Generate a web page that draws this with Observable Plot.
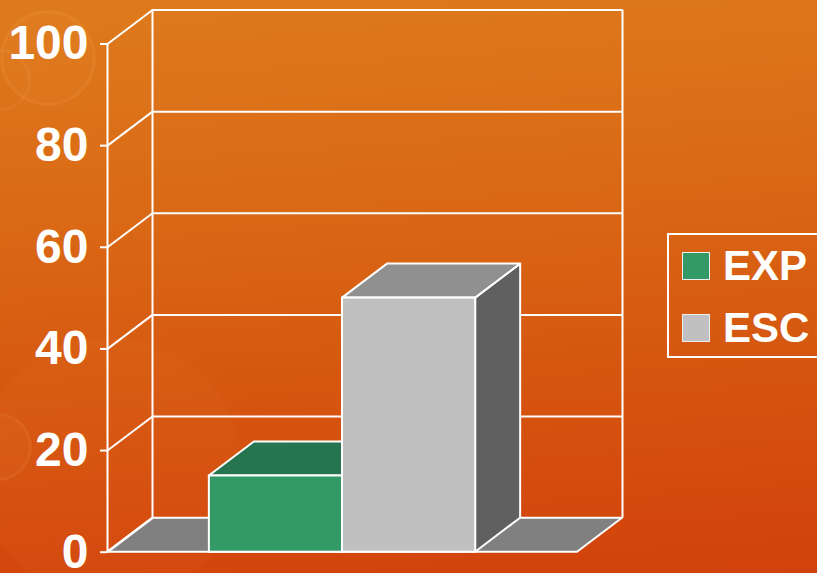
<!DOCTYPE html>
<html>
<head>
<meta charset="utf-8">
<script src="https://cdn.jsdelivr.net/npm/d3@7"></script>
<script src="https://cdn.jsdelivr.net/npm/@observablehq/plot@0.6"></script>
<style>
  html, body { margin: 0; padding: 0; }
  body {
    width: 817px; height: 573px; overflow: hidden; position: relative;
    font-family: "Liberation Sans", Arial, sans-serif;
    background:
      radial-gradient(circle at 48px 58px, rgba(255,190,110,0) 44px, rgba(255,190,110,0.13) 45.5px, rgba(255,190,110,0.13) 47px, rgba(255,190,110,0) 48.5px),
      radial-gradient(circle at 48px 58px, rgba(255,170,90,0.05) 0px, rgba(255,170,90,0.05) 44px, rgba(255,170,90,0) 45px),
      radial-gradient(circle at -2px 447px, rgba(255,190,110,0) 30px, rgba(255,190,110,0.12) 31.5px, rgba(255,190,110,0.12) 33px, rgba(255,190,110,0) 34.5px),
      radial-gradient(circle at -2px 447px, rgba(255,170,90,0.05) 0px, rgba(255,170,90,0.05) 30px, rgba(255,170,90,0) 31px),
      radial-gradient(circle at 0px 80px, rgba(255,190,110,0) 27px, rgba(255,190,110,0.09) 28.5px, rgba(255,190,110,0.09) 30px, rgba(255,190,110,0) 31.5px),
      radial-gradient(circle at 110px 470px, rgba(255,170,90,0.04) 0px, rgba(255,170,90,0.04) 130px, rgba(255,170,90,0) 135px),
      linear-gradient(176deg, #DE7B1D 0%, #DA6915 35%, #D5530F 70%, #D2410B 100%);
  }
  #chart { position: absolute; left: 0; top: 0; }
  #legend {
    position: absolute; left: 667px; top: 233px; width: 170px; height: 125px;
    border: 2px solid #fff; box-sizing: border-box;
  }
  .row { display: flex; align-items: center; height: 62px; }
  .sw { width: 28px; height: 28px; box-sizing: border-box; border: 1.5px solid #eee; margin-left: 13px; }
  .lab { margin-left: 13px; color: #fff; font-weight: bold; font-size: 42px; line-height: 1; }
</style>
</head>
<body>
<div id="chart"></div>
<div id="legend"></div>
<script>
// ---- data ----
const series = ["EXP", "ESC"];
const values = [15, 50];
const frontColors = ["#339966", "#C0C0C0"];
const topColors = ["#267550", "#909090"];
const sideColors = ["#1f5f41", "#606060"];
const yTicks = [0, 20, 40, 60, 80, 100];

// ---- 3D geometry (data units) ----
const gapWidth = 1.53;                      // Excel-style gap width
const bw = 1 / (series.length + gapWidth);  // bar width in x units
const x0 = (1 - bw * series.length) / 2;
const DX = 45 / 470;                        // depth in x units
const DY = 34 / 5.082;                      // depth in y units

const bars = series.map((s, i) => ({
  s, v: values[i], x1: x0 + i * bw, x2: x0 + (i + 1) * bw,
  front: frontColors[i], top: topColors[i], side: sideColors[i]
}));

const W = "#ffffff";
const marks = [
  // floor
  Plot.areaX([{y: 0, x1: 0, x2: 1}, {y: DY, x1: DX, x2: 1 + DX}],
    {y: "y", x1: "x1", x2: "x2", fill: "#808080", stroke: W, strokeWidth: 2}),
  // back wall gridlines
  Plot.ruleY(yTicks.slice(1), {y: d => d + DY, x1: DX, x2: 1 + DX, stroke: W, strokeWidth: 2}),
  // back wall verticals
  Plot.ruleX([DX, 1 + DX], {x: d => d, y1: DY, y2: 100 + DY, stroke: W, strokeWidth: 2}),
  // side wall slanted gridlines
  Plot.link(yTicks, {x1: 0, y1: d => d, x2: DX, y2: d => d + DY, stroke: W, strokeWidth: 2}),
  // front vertical axis line
  Plot.ruleX([0], {y1: 0, y2: 100, stroke: W, strokeWidth: 2}),
  Plot.axisY({ticks: yTicks, tickSize: 7, tickPadding: 12, fontSize: 48, fontWeight: "bold",
    color: W, strokeWidth: 2, label: null, tickFormat: d => String(d)}),
];
for (const b of bars) {
  marks.push(
    Plot.areaY([{x: b.x2, y1: 0, y2: b.v}, {x: b.x2 + DX, y1: DY, y2: b.v + DY}],
      {x: "x", y1: "y1", y2: "y2", fill: b.side, stroke: W, strokeWidth: 2}),
    Plot.areaX([{y: b.v, x1: b.x1, x2: b.x2}, {y: b.v + DY, x1: b.x1 + DX, x2: b.x2 + DX}],
      {y: "y", x1: "x1", x2: "x2", fill: b.top, stroke: W, strokeWidth: 2}),
    Plot.rectY([b], {x1: "x1", x2: "x2", y1: 0, y2: "v", fill: b.front, stroke: W, strokeWidth: 2})
  );
}

const chart = Plot.plot({
  width: 817, height: 573,
  marginLeft: 107, marginRight: 240, marginTop: 43.5, marginBottom: 21.3,
  x: {domain: [0, 1], axis: null},
  y: {domain: [0, 100], axis: null},
  style: {background: "transparent", overflow: "visible", fontFamily: "'Liberation Sans', Arial, sans-serif", color: "#fff"},
  marks
});
document.getElementById("chart").appendChild(chart);

// legend
const leg = document.getElementById("legend");
series.forEach((s, i) => {
  const row = document.createElement("div");
  row.className = "row";
  row.innerHTML = `<div class="sw" style="background:${frontColors[i]}"></div><div class="lab">${s}</div>`;
  leg.appendChild(row);
});
</script>
</body>
</html>
